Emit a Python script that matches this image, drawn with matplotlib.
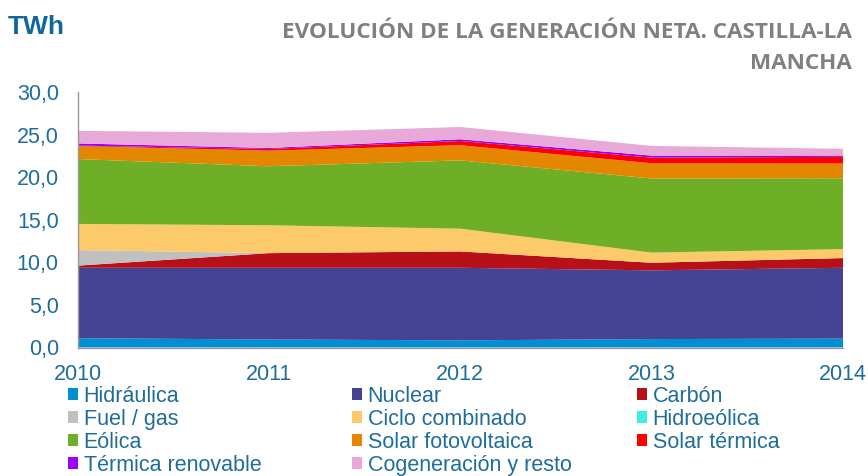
import matplotlib
matplotlib.use("Agg")
import matplotlib.pyplot as plt
from matplotlib.patches import Patch

years = [2010, 2011, 2012, 2013, 2014]
categories = ["Hidráulica", "Nuclear", "Carbón", "Fuel / gas", "Ciclo combinado",
              "Hidroeólica", "Eólica", "Solar fotovoltaica", "Solar térmica",
              "Térmica renovable", "Cogeneración y resto"]

hidraulica = [1.09, 0.94, 0.84, 0.99, 1.04]
nuclear = [8.27, 8.42, 8.52, 8.07, 8.32]
carbon = [0.25, 1.72, 1.92, 0.89, 1.14]
fuel_gas = [1.83, 0.0, 0.0, 0.0, 0.0]
ciclo_combinado = [3.07, 3.27, 2.67, 1.19, 1.05]
hidroeolica = [0.0, 0.0, 0.0, 0.0, 0.0]
eolica = [7.62, 6.93, 8.02, 8.71, 8.32]
solar_fv = [1.53, 1.83, 1.78, 1.78, 1.73]
solar_termica = [0.05, 0.2, 0.5, 0.66, 0.79]
termica_renovable = [0.25, 0.12, 0.2, 0.24, 0.15]
cogeneracion = [1.48, 1.78, 1.44, 1.14, 0.79]

series = [hidraulica, nuclear, carbon, fuel_gas, ciclo_combinado, hidroeolica,
          eolica, solar_fv, solar_termica, termica_renovable, cogeneracion]
colors = ["#008FD0", "#474394", "#B81018", "#C0C0C0", "#FDCA6B", "#3FEFE6",
          "#6FAF27", "#E58600", "#FF0000", "#9900FF", "#E8A8D8"]

yticks = [0, 5, 10, 15, 20, 25, 30]
ytick_labels = ["0,0", "5,0", "10,0", "15,0", "20,0", "25,0", "30,0"]

plt.rcParams['font.family'] = ['Liberation Sans', 'DejaVu Sans']
label_color = "#1F6D9C"

fig = plt.figure(figsize=(8.68, 4.76), dpi=100)
ax = fig.add_axes([77.5 / 868, 1 - 347.5 / 476, (843 - 77.5) / 868, (347.5 - 92) / 476])
ax.stackplot(years, *series, colors=colors, linewidth=0)
ax.set_xlim(2010, 2014)
ax.set_ylim(0, 30)
ax.set_yticks(yticks)
ax.set_yticklabels(ytick_labels)
ax.set_xticks(years)
ax.set_xticklabels([str(y) for y in years])
ax.tick_params(axis='both', length=0, labelsize=15.5, labelcolor=label_color)
ax.tick_params(axis='y', pad=13.5)
ax.tick_params(axis='x', pad=12)
for s in ['top', 'right']:
    ax.spines[s].set_visible(False)
for s in ['left', 'bottom']:
    ax.spines[s].set_color("#999999")
    ax.spines[s].set_linewidth(1.0)

fig.text(8 / 868, 1 - 34 / 476, "TWh", fontsize=19, fontweight='bold', color="#10679A",
         ha='left', va='baseline')
fig.text(852 / 868, 1 - 38 / 476, "EVOLUCIÓN DE LA GENERACIÓN NETA. CASTILLA-LA",
         fontsize=16.2, fontweight='bold', color="#808080", ha='right', va='baseline',
         family='Open Sans')
fig.text(852 / 868, 1 - 69 / 476, "MANCHA",
         fontsize=16.2, fontweight='bold', color="#808080", ha='right', va='baseline',
         family='Open Sans')

handles = [Patch(facecolor=c, edgecolor='none', label=l) for c, l in zip(colors, categories)]
col_x = [68, 352, 637]
for ci in range(3):
    hs = handles[ci::3]
    leg = fig.legend(handles=hs, loc='upper left', bbox_to_anchor=(col_x[ci] / 868, 1 - 386 / 476),
                     frameon=False, fontsize=15.5, handlelength=0.45, handleheight=0.5,
                     handletextpad=0.28, labelspacing=0.09, borderpad=0, borderaxespad=0)
    for t in leg.get_texts():
        t.set_color(label_color)

fig.savefig("out.png", dpi=100)
